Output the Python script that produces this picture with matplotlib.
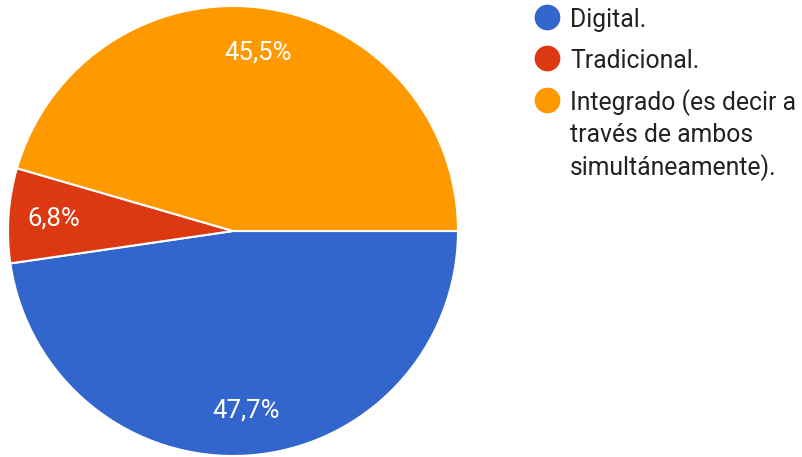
import matplotlib.pyplot as plt
from matplotlib.lines import Line2D

plt.rcParams['font.family'] = ['Roboto', 'DejaVu Sans']

labels = ['Digital.', 'Tradicional.',
          'Integrado (es decir a\ntravés de ambos\nsimultáneamente).']
values = [47.7, 6.8, 45.5]
colors = ['#3366CC', '#DC3912', '#FF9900']

W, H = 802, 457
fig = plt.figure(figsize=(W / 100, H / 100), dpi=100)
ax = fig.add_axes([8 / W, 1 / H, 450 / W, 450 / H])

wedges, texts, autotexts = ax.pie(
    values, colors=colors, startangle=0, counterclock=False,
    autopct=lambda p: f'{p:.1f}%'.replace('.', ','), pctdistance=0.8,
    wedgeprops=dict(edgecolor='white', linewidth=1.5),
    textprops=dict(color='white', fontsize=18.5))
ax.set_xlim(-1, 1)
ax.set_ylim(-1, 1)
ax.set_aspect('equal')

# legend drawn by hand: dot aligned with the first line of each label
dot_y = [17, 58, 100]
line_gap = 32.5
for y, lab, c in zip(dot_y, labels, colors):
    fig.add_artist(Line2D([547 / W], [1 - y / H], marker='o', linestyle='none',
                          markersize=17.5, markerfacecolor=c,
                          markeredgecolor=c, transform=fig.transFigure))
    for i, line in enumerate(lab.split('\n')):
        fig.text(570 / W, 1 - (y + 10 + i * line_gap) / H, line,
                 fontsize=17.8, color='#222222', va='baseline', ha='left')

fig.savefig('out.png', dpi=100)
